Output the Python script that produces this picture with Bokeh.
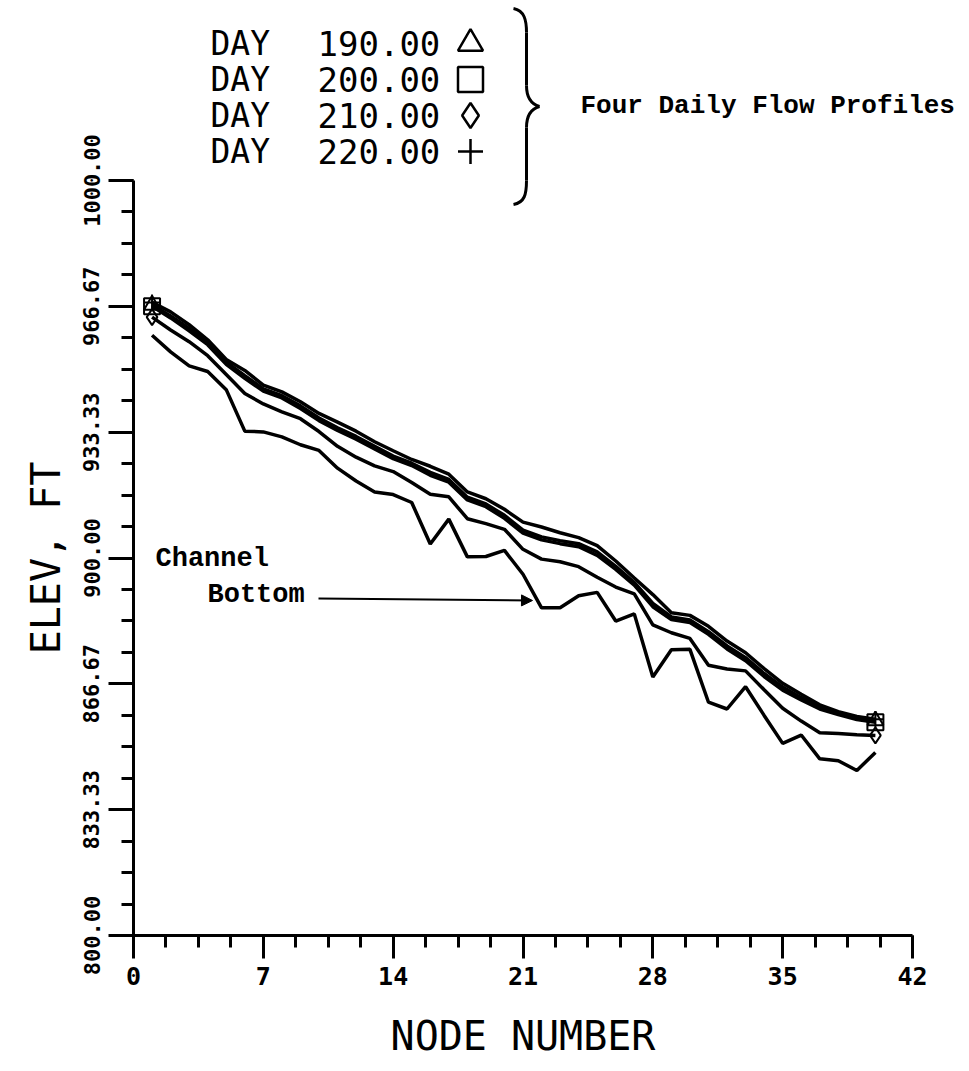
import numpy as np
from bokeh.plotting import figure
from bokeh.models import (Range1d, FixedTicker, PrintfTickFormatter, ColumnDataSource, Arrow,
                          NormalHead, LinearAxis)
from bokeh.core.properties import value
from bokeh.embed import file_html
from bokeh.resources import INLINE

# ---------------- data ----------------
nodes = list(range(1, 41))

day_220 = [967.7, 965.2, 961.8, 957.8, 952.6, 949.7, 945.8, 944.0, 941.4, 938.3,
           936.0, 933.6, 930.8, 928.4, 926.1, 924.3, 922.2, 917.5, 915.7, 912.9,
           909.5, 908.2, 906.7, 905.4, 903.3, 899.2, 894.7, 890.3, 885.5, 884.8,
           881.9, 878.0, 874.9, 870.7, 866.8, 863.9, 861.1, 859.3, 858.0, 857.3]

day_190 = [967.0, 964.1, 960.8, 957.0, 951.9, 948.3, 944.8, 943.0, 940.3, 937.1,
           934.5, 932.2, 929.6, 927.0, 925.1, 922.7, 920.8, 916.1, 914.3, 911.3,
           907.4, 905.6, 904.6, 903.8, 901.6, 897.8, 893.5, 888.0, 884.4, 883.6,
           880.5, 876.7, 873.6, 869.4, 865.8, 863.0, 860.6, 859.0, 857.7, 856.9]

day_200 = [966.7, 963.6, 960.2, 956.5, 951.3, 947.6, 944.2, 942.4, 939.6, 936.4,
           933.8, 931.5, 928.9, 926.3, 924.5, 921.9, 920.1, 915.4, 913.6, 910.5,
           906.6, 904.8, 903.8, 903.0, 900.7, 897.0, 892.8, 887.1, 883.7, 882.9,
           879.8, 875.9, 872.8, 868.6, 865.0, 862.4, 860.0, 858.5, 857.2, 856.5]

day_210 = [963.8, 960.4, 957.3, 953.6, 948.6, 943.6, 940.8, 938.7, 936.9, 933.5,
           929.6, 926.7, 924.4, 922.9, 920.0, 916.9, 916.2, 910.4, 909.1, 907.6,
           902.3, 899.7, 899.0, 897.7, 894.9, 892.3, 890.5, 882.3, 880.2, 878.7,
           871.6, 870.6, 870.1, 865.1, 860.2, 856.8, 853.7, 853.5, 853.2, 853.0]

channel_bottom = [959.0, 954.6, 950.9, 949.4, 944.6, 933.6, 933.4, 932.1, 930.0, 928.5,
                  923.8, 920.4, 917.5, 916.8, 914.7, 903.7, 910.3, 900.3, 900.4, 902.0,
                  895.7, 886.8, 886.8, 890.0, 890.9, 883.3, 885.2, 868.5, 875.7, 875.8,
                  861.8, 860.0, 865.9, 858.3, 850.9, 853.1, 846.8, 846.3, 843.7, 848.5]

legend_days = ["190.00", "200.00", "210.00", "220.00"]
legend_markers = ["triangle", "square", "diamond", "cross"]
series_by_day = [day_190, day_200, day_210, day_220]

x_ticks = [0, 7, 14, 21, 28, 35, 42]
y_ticks = [800.0, 833.3333, 866.6667, 900.0, 933.3333, 966.6667, 1000.0]
x_title = "NODE NUMBER"
y_title = "ELEV, FT"

# ---------------- layout (canvas pixels -> data) ----------------
CANVAS_W, CANVAS_H = 958, 1066
LEFT_PX, BOTTOM_PX = 133, 935      # canvas position of the axes origin (0, 800)
XS = 779 / 42.0                    # px per node
YS = 755 / 200.0                   # px per foot


def px_x(px):
    return (px - LEFT_PX) / XS


def px_y(py):
    return 800.0 + (BOTTOM_PX - py) / YS


MONO = value("DejaVu Sans Mono")
TYPE = value("Liberation Mono")

p = figure(frame_width=CANVAS_W, frame_height=CANVAS_H,
           x_range=Range1d(px_x(0), px_x(CANVAS_W)), y_range=Range1d(px_y(CANVAS_H), px_y(0)),
           x_axis_location=None, y_axis_location=None,
           output_backend="svg", toolbar_location=None,
           min_border=0, background_fill_color="white", border_fill_color="white")
p.grid.visible = False
p.outline_line_color = None

xaxis = LinearAxis(fixed_location=800, bounds=(0, 42),
                   ticker=FixedTicker(ticks=x_ticks, minor_ticks=list(np.arange(0, 42.01, 1.75))))
yaxis = LinearAxis(fixed_location=0, bounds=(800, 1000),
                   ticker=FixedTicker(ticks=y_ticks,
                                      minor_ticks=list(np.arange(800, 1000.01, 200 / 24))),
                   formatter=PrintfTickFormatter(format="%.2f"),
                   major_label_orientation="vertical")

for ax in (xaxis, yaxis):
    ax.axis_line_width = 3
    ax.axis_line_color = "black"
    ax.major_tick_line_width = 3
    ax.minor_tick_line_width = 3
    ax.major_tick_line_color = "black"
    ax.minor_tick_line_color = "black"
    ax.major_tick_in = 0
    ax.minor_tick_in = 0
    ax.minor_tick_out = 12
    ax.major_label_text_font = "DejaVu Sans Mono"
    ax.major_label_text_font_style = "bold"
    ax.major_label_text_color = "black"

xaxis.major_tick_out = 23
xaxis.major_label_text_font_size = "25px"
xaxis.major_label_standoff = 8

yaxis.major_tick_out = 25
yaxis.major_label_text_font_size = "22px"
yaxis.major_label_standoff = 9

p.add_layout(xaxis, "below")
p.add_layout(yaxis, "left")

# axis titles, centred on the drawn axes
p.text(x=[21], y=[px_y(1035)], text=[x_title], text_font=MONO, text_font_size="40px",
       text_align="center", text_baseline="middle", text_color="black")
p.text(x=[px_x(45)], y=[900], text=[y_title], text_font=MONO, text_font_size="40px",
       text_align="center", text_baseline="middle", angle=np.pi / 2, text_color="black")

# profiles
for s in series_by_day:
    p.line(nodes, s, line_width=3.5, line_color="black")
p.line(nodes, channel_bottom, line_width=3.5, line_color="black")

for s, m in zip(series_by_day, legend_markers):
    p.scatter([nodes[0], nodes[-1]], [s[0], s[-1]], marker=m, size=16,
              fill_color=None, line_color="black", line_width=2)

# legend block (top)
row_py = [43, 79, 115, 151]
leg = ColumnDataSource(dict(
    xd=[px_x(210)] * 4,
    xn=[px_x(317)] * 4,
    xm=[px_x(470)] * 4,
    y=[px_y(v) for v in row_py],
    lab=["DAY"] * 4,
    num=legend_days,
    mk=legend_markers,
))
p.text(x="xd", y="y", text="lab", source=leg, text_font=MONO, text_font_size="33px",
       text_baseline="middle", text_align="left", text_color="black")
p.text(x="xn", y="y", text="num", source=leg, text_font=MONO, text_font_size="34px",
       text_baseline="middle", text_align="left", text_color="black")
p.scatter(x="xm", y="y", marker="mk", source=leg, size=25, fill_color=None,
          line_color="black", line_width=2.5)

# brace
bz = [  # (x0,y0, x1,y1, cx0,cy0, cx1,cy1) in canvas px
    (513, 8, 526, 32, 524, 10, 526, 20),
    (526, 85, 539, 106, 526, 98, 532, 104),
    (539, 106, 526, 127, 532, 108, 526, 114),
    (526, 180, 513, 204, 526, 194, 524, 202),
]
p.bezier(x0=[px_x(b[0]) for b in bz], y0=[px_y(b[1]) for b in bz],
         x1=[px_x(b[2]) for b in bz], y1=[px_y(b[3]) for b in bz],
         cx0=[px_x(b[4]) for b in bz], cy0=[px_y(b[5]) for b in bz],
         cx1=[px_x(b[6]) for b in bz], cy1=[px_y(b[7]) for b in bz],
         line_width=3, line_color="black")
p.segment(x0=[px_x(526), px_x(526)], y0=[px_y(32), px_y(127)],
          x1=[px_x(526), px_x(526)], y1=[px_y(85), px_y(180)],
          line_width=3, line_color="black")

# annotations
p.text(x=[px_x(580)], y=[px_y(105)], text=["Four Daily Flow Profiles"], text_font=TYPE,
       text_font_size="26px", text_font_style="bold", text_baseline="middle",
       text_align="left", text_color="black")
p.text(x=[px_x(155), px_x(207)], y=[px_y(558), px_y(594)], text=["Channel", "Bottom"],
       text_font=TYPE, text_font_size="27px", text_font_style="bold", text_baseline="middle",
       text_align="left", text_color="black")
p.add_layout(Arrow(end=NormalHead(size=11, fill_color="black", line_color="black"),
                   x_start=px_x(318), y_start=px_y(598), x_end=px_x(532), y_end=px_y(600),
                   line_width=2, line_color="black"))

open("out.html", "w").write(file_html(p, INLINE))
